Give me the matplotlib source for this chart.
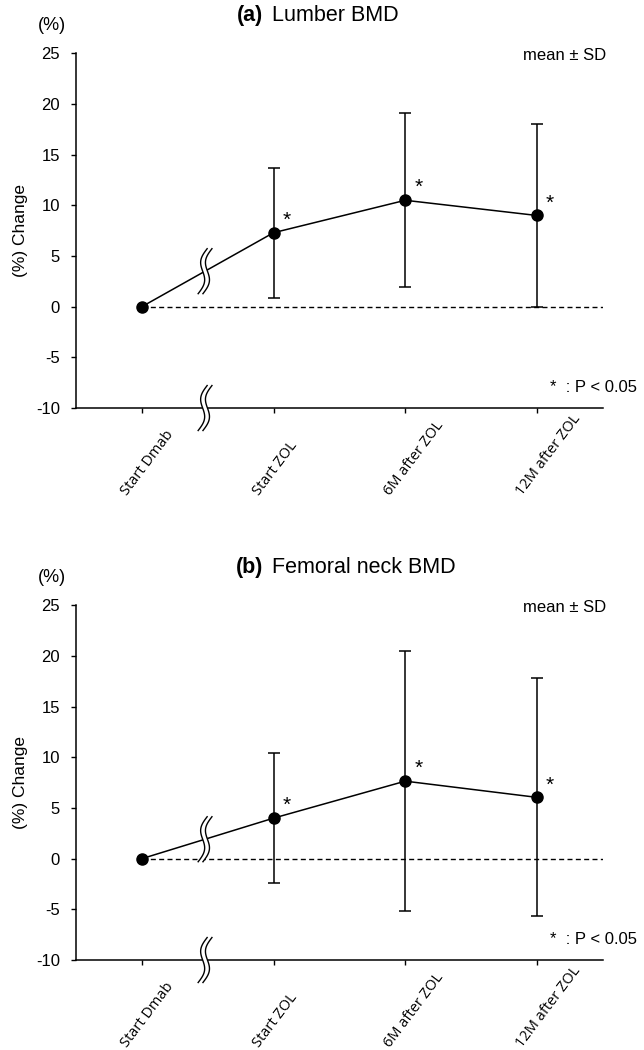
import numpy as np
import matplotlib
matplotlib.use('Agg')
import matplotlib.pyplot as plt
from matplotlib.transforms import ScaledTranslation

plt.rcParams['font.family'] = ['Liberation Sans', 'DejaVu Sans']
plt.rcParams['axes.unicode_minus'] = False

# data (percent change, mean and SD)
timepoints = ['Start Dmab', 'Start ZOL', '6M after ZOL', '12M after ZOL']
lumbar_mean = [0.0, 7.3, 10.5, 9.0]
lumbar_sd = [0.0, 6.4, 8.6, 9.0]
femoral_mean = [0.0, 4.0, 7.65, 6.05]
femoral_sd = [0.0, 6.4, 12.85, 11.75]
significant = [False, True, True, True]
yticks = [-10, -5, 0, 5, 10, 15, 20, 25]
break_x = 0.48


def draw_break(ax, bx, by):
    """Double wavy break mark centred at data point (bx, by)."""
    fig = ax.figure
    t = np.linspace(0, 1, 80)
    yy = 0.225 - 0.45 * t
    xx = -0.04 * np.sin(2 * np.pi * t) + 0.09 * (0.5 - t)
    tr = fig.dpi_scale_trans + ScaledTranslation(bx, by, ax.transData)
    gap = 0.024
    ax.fill(np.r_[xx - gap, (xx + gap)[::-1]], np.r_[yy, yy[::-1]],
            color='white', transform=tr, zorder=6, clip_on=False, lw=0)
    for s in (-gap, gap):
        ax.plot(xx + s, yy, color='black', lw=1.0, transform=tr,
                zorder=7, clip_on=False)


def draw_panel(ax, tag, name, mean, sd):
    fig = ax.figure
    x = np.arange(len(timepoints))

    ax.hlines(0, x[0], x[-1] + 0.5, colors='black', linewidth=1.0,
              linestyles=(0, (3.6, 2.4)), zorder=1)
    ax.errorbar(x[1:], mean[1:], yerr=sd[1:], fmt='none', ecolor='black',
                elinewidth=1.1, capsize=4, capthick=1.1, zorder=3)
    ax.plot(x, mean, '-o', color='black', lw=1.1, ms=8, zorder=4)

    for i, sig in enumerate(significant):
        if sig:
            ax.annotate('*', (x[i], mean[i]), xytext=(9.5, 9),
                        textcoords='offset points', ha='center', va='center',
                        fontsize=15)

    ax.set_xlim(-0.5, 3.5)
    ax.set_ylim(yticks[0], yticks[-1])
    ax.set_yticks(yticks)
    ax.set_xticks(x)
    ax.set_xticklabels([])
    ax.tick_params(axis='y', direction='out', length=3.6, width=1.0,
                   pad=8, labelsize=12)
    ax.tick_params(axis='x', direction='out', length=3.6, width=1.0)
    for side in ('top', 'right'):
        ax.spines[side].set_visible(False)
    for side in ('left', 'bottom'):
        ax.spines[side].set_linewidth(1.1)

    # rotated category labels, bottom aligned like the original
    lab_tr = ax.transData + ScaledTranslation(-0.15, -0.875, fig.dpi_scale_trans)
    for i, lab in enumerate(timepoints):
        ax.text(x[i], yticks[0], lab, rotation=53, rotation_mode='anchor',
                ha='left', va='baseline', fontsize=10.5, transform=lab_tr,
                family=['Open Sans', 'DejaVu Sans'])

    # axis breaks
    draw_break(ax, break_x, np.interp(break_x, x, mean))
    draw_break(ax, break_x, yticks[0])

    ax.text(0.355, 1.107, tag, transform=ax.transAxes, ha='right',
            va='center', fontsize=15.5, fontweight='bold')
    ax.text(0.372, 1.107, name, transform=ax.transAxes, ha='left',
            va='center', fontsize=15.5)
    ax.text(-0.0455, 1.079, '(%)', transform=ax.transAxes, ha='center',
            va='center', fontsize=13)
    ax.text(-0.106, 0.5, '(%) Change', transform=ax.transAxes, rotation=90,
            ha='center', va='center', fontsize=12.5)
    ax.text(0.928, 0.995, 'mean ± SD', transform=ax.transAxes, ha='center',
            va='center', fontsize=12)
    ax.text(0.899, 0.059, '*  : P < 0.05', transform=ax.transAxes, ha='left',
            va='center', fontsize=12)


fig = plt.figure(figsize=(6.44, 10.5), dpi=100)
ax_a = fig.add_axes([0.118, 0.6114, 0.818, 0.3378])
ax_b = fig.add_axes([0.118, 0.0857, 0.818, 0.3378])

draw_panel(ax_a, '(a)', 'Lumber BMD', lumbar_mean, lumbar_sd)
draw_panel(ax_b, '(b)', 'Femoral neck BMD', femoral_mean, femoral_sd)

fig.savefig('out.png', dpi=100)
